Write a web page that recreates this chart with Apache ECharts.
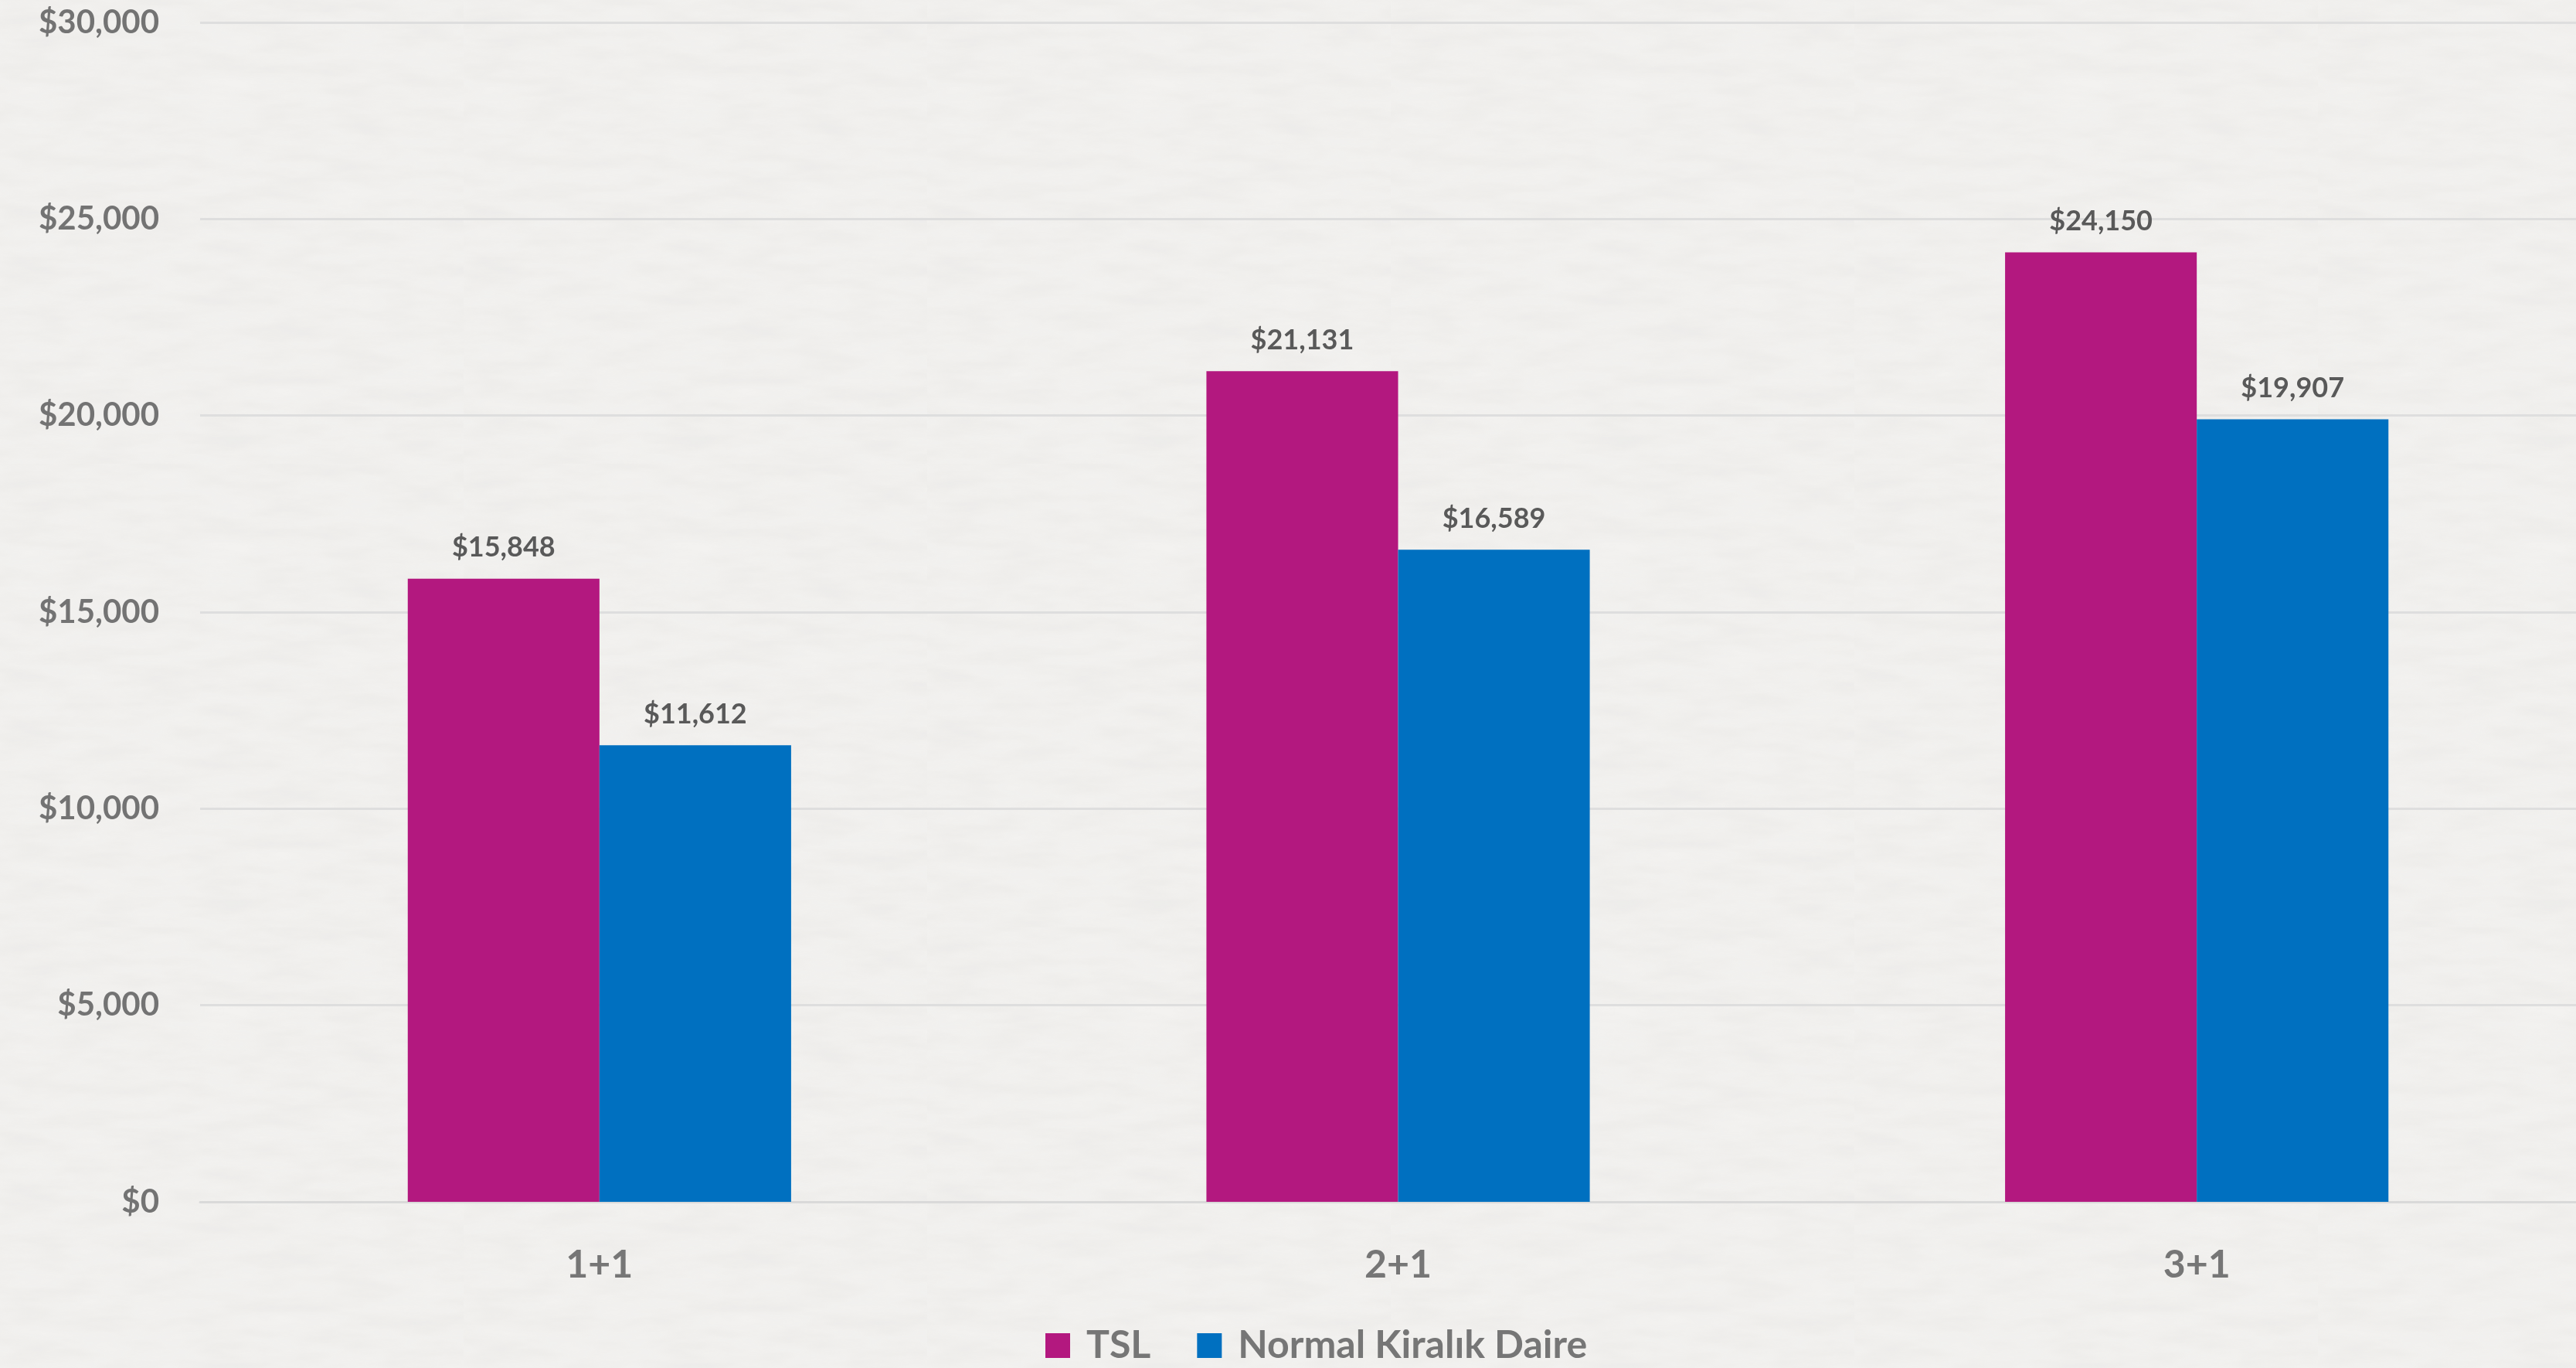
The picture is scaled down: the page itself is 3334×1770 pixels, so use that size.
<!DOCTYPE html>
<html>
<head>
<meta charset="utf-8">
<script src="https://cdn.jsdelivr.net/npm/echarts@6/dist/echarts.min.js"></script>
<style>
  html, body { margin: 0; padding: 0; background-color: #f3f2f0; overflow: hidden; }
  body {
    width: 3334px; height: 1770px;
    background-image: url("data:image/svg+xml;utf8,<svg xmlns='http://www.w3.org/2000/svg' width='600' height='600'><filter id='n'><feTurbulence type='fractalNoise' baseFrequency='0.012 0.05' numOctaves='4' seed='3'/><feColorMatrix values='0 0 0 0 0.55  0 0 0 0 0.54  0 0 0 0 0.52  0 0 0 0.16 -0.02'/></filter><rect width='600' height='600' filter='url(%23n)'/></svg>");
  }
  #chart { width: 3360px; height: 1770px; }
</style>
</head>
<body>
<div id="chart"></div>
<script>
const categories = ['1+1', '2+1', '3+1'];
const seriesNames = ['TSL', 'Normal Kiralık Daire'];
const tslValues = [15848, 21131, 24150];
const normalValues = [11612, 16589, 19907];
const yTicks = [0, 5000, 10000, 15000, 20000, 25000, 30000];

const fmt = v => '$' + Number(v).toLocaleString('en-US');
const FONT = 'Lato';

const chart = echarts.init(document.getElementById('chart'), null, { renderer: 'canvas' });
chart.setOption({
  backgroundColor: 'transparent',
  animation: false,
  grid: { left: 259, right: 0, top: 29, bottom: 215, containLabel: false },
  legend: {
    data: seriesNames,
    left: 1348,
    top: 1711,
    itemWidth: 32,
    itemHeight: 32,
    itemGap: 60,
    icon: 'rect',
    textStyle: { fontFamily: FONT, fontWeight: 'bold', fontSize: 50, color: '#767676', padding: [0, 0, 0, 16] }
  },
  xAxis: {
    type: 'category',
    data: categories,
    axisTick: { show: false },
    axisLine: { show: true, lineStyle: { color: '#d9d9d9', width: 3 } },
    axisLabel: { fontFamily: FONT, fontWeight: 'bold', fontSize: 50, color: '#767676', margin: 57 }
  },
  yAxis: {
    type: 'value',
    min: yTicks[0],
    max: yTicks[yTicks.length - 1],
    interval: yTicks[1] - yTicks[0],
    axisLine: { show: false },
    axisTick: { show: false },
    splitLine: { lineStyle: { color: '#dedede', width: 3 } },
    axisLabel: { fontFamily: FONT, fontWeight: 'bold', fontSize: 42, color: '#737373', margin: 53, formatter: fmt }
  },
  series: [
    {
      name: seriesNames[0],
      type: 'bar',
      data: tslValues,
      barGap: '0%',
      barCategoryGap: '52%',
      itemStyle: { color: '#B3187F' },
      label: { show: true, position: 'top', distance: 22, fontFamily: FONT, fontWeight: 'bold', fontSize: 36, color: '#595959', formatter: p => fmt(p.value) }
    },
    {
      name: seriesNames[1],
      type: 'bar',
      data: normalValues,
      barGap: '0%',
      barCategoryGap: '52%',
      itemStyle: { color: '#0070C0' },
      label: { show: true, position: 'top', distance: 22, fontFamily: FONT, fontWeight: 'bold', fontSize: 36, color: '#595959', formatter: p => fmt(p.value) }
    }
  ]
});
</script>
</body>
</html>
